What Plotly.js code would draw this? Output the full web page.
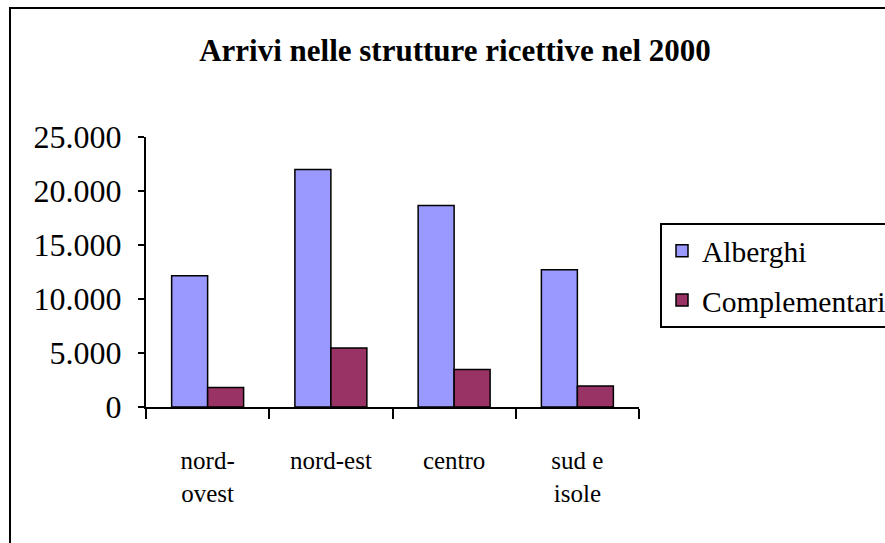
<!DOCTYPE html>
<html>
<head>
<meta charset="utf-8">
<script src="https://cdn.plot.ly/plotly-3.0.1.min.js"></script>
<style>
html,body{margin:0;padding:0;background:#fff;}
#chart{width:885px;height:543px;}
</style>
</head>
<body>
<div id="chart"></div>
<script>
const categories = ["nord-<br>ovest", "nord-est", "centro", "sud e<br>isole"];
const seriesNames = ["Alberghi", "Complementari"];
const alberghi = [12150, 22000, 18650, 12700];
const complementari = [1800, 5470, 3470, 1950];
const yTicks = [0, 5000, 10000, 15000, 20000, 25000];

const FONT = "Liberation Serif";

const traces = [
  {
    type: "bar", name: seriesNames[0], x: categories, y: alberghi,
    marker: {color: "#9999FF", line: {color: "#000", width: 1.5}},
    legendgroup: "a"
  },
  {
    type: "bar", name: seriesNames[1], x: categories, y: complementari,
    marker: {color: "#993366", line: {color: "#000", width: 1.5}},
    legendgroup: "b"
  }
];

const layout = {
  width: 885, height: 543,
  paper_bgcolor: "#fff", plot_bgcolor: "#fff",
  font: {family: FONT, color: "#000"},
  separators: ",.",
  margin: {l: 146, r: 246, t: 137, b: 136, autoexpand: false},
  title: {
    text: "<b>Arrivi nelle strutture ricettive nel 2000</b>",
    font: {family: FONT, size: 31, color: "#000"},
    x: 455/885, xanchor: "center", xref: "container",
    y: 1 - 50/543, yanchor: "middle", yref: "container"
  },
  barmode: "group", bargap: 0.416, bargroupgap: 0,
  xaxis: {
    type: "category",
    showline: true, linecolor: "#000", linewidth: 2,
    ticks: "outside", tickson: "boundaries", ticklen: 10, tickwidth: 2, tickcolor: "#000",
    tickfont: {family: FONT, size: 25, color: "#000"},
    ticklabelstandoff: 30,
    showgrid: false, zeroline: false, fixedrange: true
  },
  yaxis: {
    range: [0, 25000], tickvals: yTicks, tickformat: ",d",
    showline: true, linecolor: "#000", linewidth: 2,
    ticks: "outside", ticklen: 6, tickwidth: 2, tickcolor: "#000",
    tickfont: {family: FONT, size: 32, color: "#000"},
    ticklabelstandoff: 10,
    showgrid: false, zeroline: false, fixedrange: true
  },
  legend: {
    x: (660-146)/493, xanchor: "left",
    y: (407-223)/270, yanchor: "top",
    bordercolor: "#000", borderwidth: 2, bgcolor: "#fff",
    font: {family: FONT, size: 29.5, color: "#000"},
    traceorder: "grouped", tracegroupgap: 8
  },
  shapes: [
    {type: "rect", xref: "paper", yref: "paper",
     x0: (10-146)/493, x1: 2, y0: -1, y1: (407-8)/270,
     line: {color: "#000", width: 2}, fillcolor: "rgba(0,0,0,0)", layer: "below"}
  ],
  showlegend: true
};

Plotly.newPlot("chart", traces, layout, {displayModeBar: false, staticPlot: true});
</script>
</body>
</html>
